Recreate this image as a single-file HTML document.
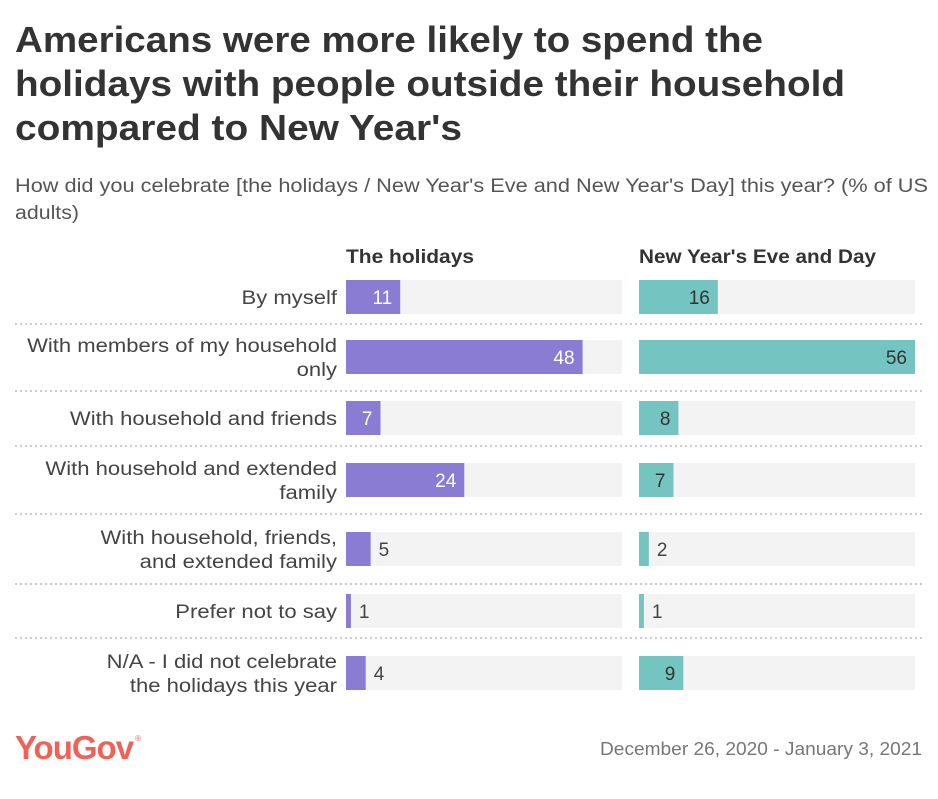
<!DOCTYPE html>
<html><head><meta charset="utf-8"><style>
body{margin:0;background:#fff;width:938px;height:794px;overflow:hidden;font-family:"Liberation Sans",sans-serif;}
</style></head><body>
<svg width="938" height="794" xmlns="http://www.w3.org/2000/svg" id="chart">
<text x="15" y="52" font-size="36" font-weight="bold" fill="#333" textLength="748" lengthAdjust="spacingAndGlyphs">Americans were more likely to spend the</text>
<text x="15" y="96" font-size="36" font-weight="bold" fill="#333" textLength="830" lengthAdjust="spacingAndGlyphs">holidays with people outside their household</text>
<text x="15" y="140" font-size="36" font-weight="bold" fill="#333" textLength="447" lengthAdjust="spacingAndGlyphs">compared to New Year's</text>
<text x="15" y="192" font-size="19" fill="#555" textLength="913" lengthAdjust="spacingAndGlyphs">How did you celebrate [the holidays / New Year's Eve and New Year's Day] this year? (% of US</text>
<text x="15" y="219" font-size="19" fill="#555" textLength="64" lengthAdjust="spacingAndGlyphs">adults)</text>
<text x="346" y="263" font-size="19" font-weight="bold" fill="#333" textLength="128" lengthAdjust="spacingAndGlyphs">The holidays</text>
<text x="639" y="263" font-size="19" font-weight="bold" fill="#333" textLength="237" lengthAdjust="spacingAndGlyphs">New Year's Eve and Day</text>
<g id="rows"></g>
<text x="15" y="759" font-size="33" font-weight="bold" fill="#ef6258" letter-spacing="-1">YouGov</text>
<text x="135" y="741" font-size="8" fill="#ef6258">®</text>
<text x="922" y="755" font-size="18" fill="#777" text-anchor="end" textLength="322" lengthAdjust="spacingAndGlyphs">December 26, 2020 - January 3, 2021</text>
</svg>
<script>
const categories=[["By myself"],["With members of my household","only"],["With household and friends"],["With household and extended","family"],["With household, friends,","and extended family"],["Prefer not to say"],["N/A - I did not celebrate","the holidays this year"]];
const holidays=[11,48,7,24,5,1,4];
const newYears=[16,56,8,7,2,1,9];
const rowTops=[280,340,401,463,532,594,656];
const sepYs=[324,391,446,514,584,638];
const barH=34, maxV=56;
const panels=[{x:346,w:276,color:"#8a7cd3",inText:"#fff",data:holidays,name:"holidays"},{x:639,w:276,color:"#74c4c2",inText:"#333",data:newYears,name:"new-years"}];
const ns="http://www.w3.org/2000/svg";
const g=document.getElementById("rows");
function mk(t,a){const e=document.createElementNS(ns,t);for(const k in a)e.setAttribute(k,a[k]);g.appendChild(e);return e;}
sepYs.forEach(y=>{const l=mk("line",{x1:15,x2:922,y1:y,y2:y,stroke:"#ccc","stroke-width":2,"stroke-dasharray":"2,3"});

});
categories.forEach((lines,i)=>{
  const top=rowTops[i],cy=top+barH/2;
  lines.forEach((s,j)=>{
    const t=mk("text",{x:337,y:cy+7+(j-(lines.length-1)/2)*24,"text-anchor":"end","font-size":19,fill:"#444"});
    
    
    t.textContent=s;
    const w=t.getComputedTextLength();
    t.setAttribute("textLength",(w*1.16).toFixed(1));
    t.setAttribute("lengthAdjust","spacingAndGlyphs");
  });
  panels.forEach(p=>{
    const bg=mk("rect",{x:p.x,y:top,width:p.w,height:barH,fill:"#f3f3f3"});
    
    
    const v=p.data[i],w=v/maxV*p.w;
    const b=mk("rect",{x:p.x,y:top,width:w,height:barH,fill:p.color});
    
    
    const inside=w>28;
    const lb=mk("text",{x:inside?p.x+w-8:p.x+w+8,y:cy+7,"font-size":19,"text-anchor":inside?"end":"start",fill:inside?p.inText:"#444"});
    
    
    lb.textContent=v;
  });
});
</script>
</body></html>
